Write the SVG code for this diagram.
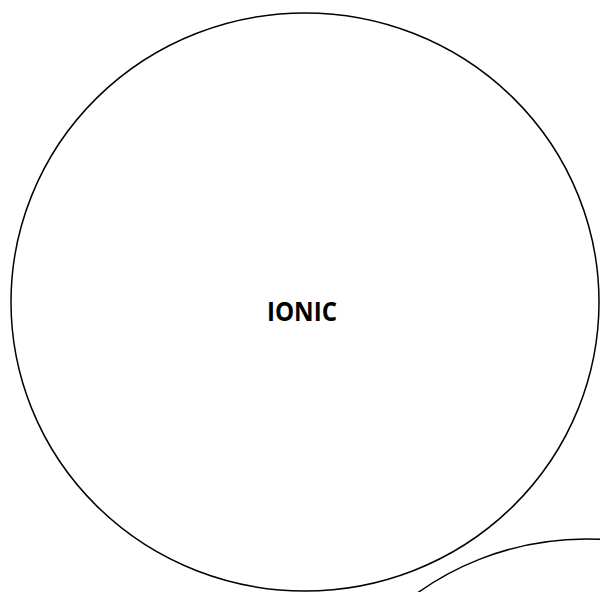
<svg xmlns="http://www.w3.org/2000/svg" width="600" height="592" viewBox="0 0 600 592">
<style>
.c{fill:none;stroke:#000;stroke-width:1.5}
.t{font-family:"Open Sans","Liberation Sans",sans-serif;font-weight:bold;font-size:27px;fill:#000}
</style>
<rect width="600" height="592" fill="#fff"/>
<g id="ionic">
<ellipse class="c" cx="305" cy="302" rx="294" ry="289"/>
<text class="t" x="302" y="321" text-anchor="middle" textLength="70" lengthAdjust="spacingAndGlyphs">IONIC</text>
</g>
<g id="circle2">
<circle class="c" cx="586" cy="829" r="290"/>
</g>
<g id="connectors"/>
</svg>
